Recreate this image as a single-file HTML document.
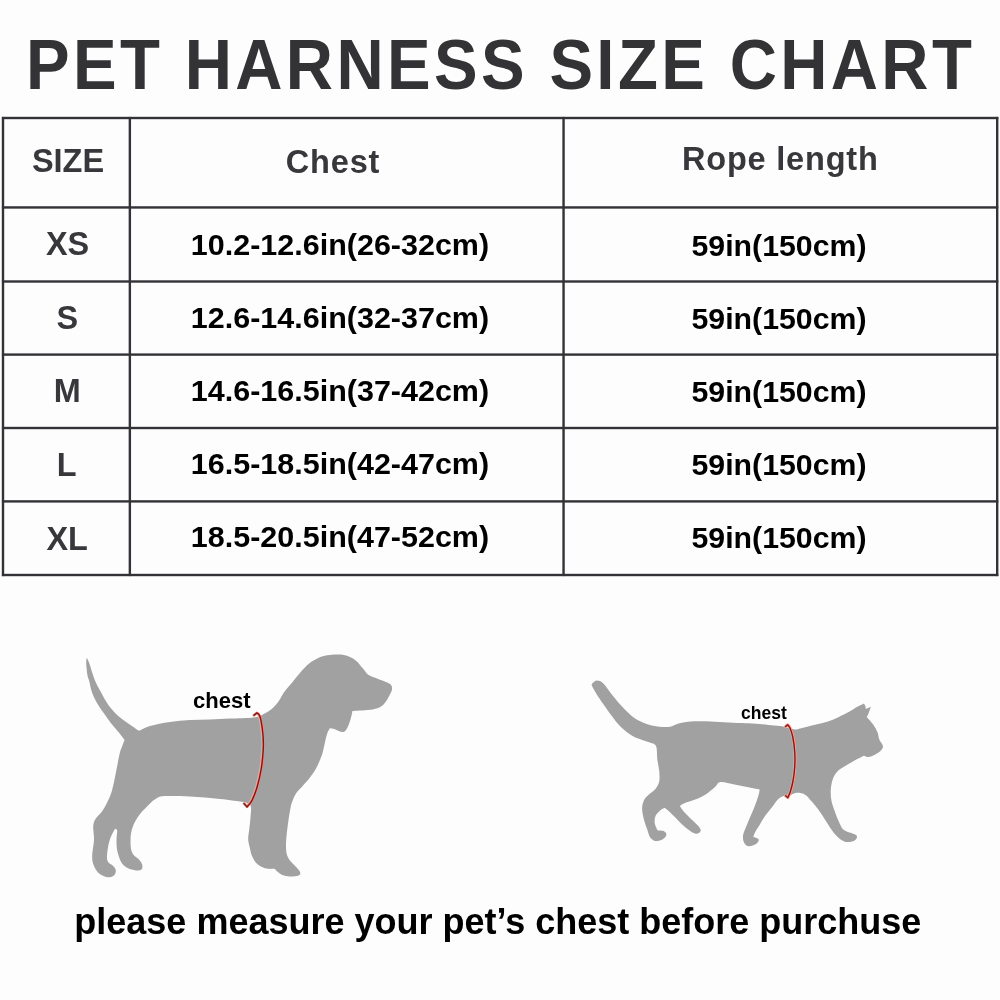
<!DOCTYPE html>
<html><head><meta charset="utf-8">
<style>
html,body{margin:0;padding:0;}
body{width:1000px;height:1000px;background:#fdfdfd;position:relative;overflow:hidden;font-family:"Liberation Sans",sans-serif;font-weight:bold;}
.t{position:absolute;white-space:nowrap;line-height:1;}
.c{transform:translateX(-50%);}
#title{left:25.5px;top:30.5px;font-size:69.5px;color:#333336;letter-spacing:3.6px;transform:scaleX(0.94);transform-origin:0 0;}
.hd{color:#38383c;font-size:32.5px;}
.sz{color:#38383c;font-size:32.4px;}
.d{color:#000;font-size:30.2px;transform:translateX(-50%) scaleX(1.01);}
.r{transform:translateX(-50%) scaleX(1.003);margin-top:0.4px;}
#foot{left:74.3px;top:903.8px;font-size:36px;color:#000;}
svg{position:absolute;left:0;top:0;}
#wrap{position:absolute;left:0;top:0;width:1000px;height:1000px;will-change:transform;}
</style></head><body><div id="wrap">
<div id="title" class="t">PET HARNESS SIZE CHART</div>

<svg width="1000" height="1000" viewBox="0 0 1000 1000" fill="#343237">
<rect x="1.9" y="116.80" width="996.4" height="2.4"/>
<rect x="1.9" y="206.25" width="996.4" height="2.4"/>
<rect x="1.9" y="280.30" width="996.4" height="2.4"/>
<rect x="1.9" y="353.40" width="996.4" height="2.4"/>
<rect x="1.9" y="426.80" width="996.4" height="2.4"/>
<rect x="1.9" y="500.20" width="996.4" height="2.4"/>
<rect x="1.9" y="573.80" width="996.4" height="2.4"/>
<rect x="1.80" y="116.9" width="2.4" height="459.2"/>
<rect x="128.65" y="116.9" width="2.4" height="459.2"/>
<rect x="562.35" y="116.9" width="2.4" height="459.2"/>
<rect x="996.00" y="116.9" width="2.4" height="459.2"/>
</svg>

<div class="t c hd" style="left:68px;top:145.3px">SIZE</div>
<div class="t c hd" style="left:333px;top:146px;letter-spacing:0.8px">Chest</div>
<div class="t c hd" style="left:780.3px;top:142.5px;letter-spacing:0.8px">Rope length</div>

<div class="t c sz" style="left:67.5px;top:227.5px">XS</div>
<div class="t c sz" style="left:67.2px;top:301.8px">S</div>
<div class="t c sz" style="left:67.2px;top:374.8px">M</div>
<div class="t c sz" style="left:66.6px;top:448.8px">L</div>
<div class="t c sz" style="left:67.2px;top:522.6px">XL</div>

<div class="t c d" style="left:340px;top:230.3px">10.2-12.6in(26-32cm)</div>
<div class="t c d" style="left:340px;top:303.2px">12.6-14.6in(32-37cm)</div>
<div class="t c d" style="left:340px;top:376.2px">14.6-16.5in(37-42cm)</div>
<div class="t c d" style="left:340px;top:449.2px">16.5-18.5in(42-47cm)</div>
<div class="t c d" style="left:340px;top:522.2px">18.5-20.5in(47-52cm)</div>

<div class="t c d r" style="left:779px;top:230.3px">59in(150cm)</div>
<div class="t c d r" style="left:779px;top:303.2px">59in(150cm)</div>
<div class="t c d r" style="left:779px;top:376.2px">59in(150cm)</div>
<div class="t c d r" style="left:779px;top:449.2px">59in(150cm)</div>
<div class="t c d r" style="left:779px;top:522.2px">59in(150cm)</div>

<svg width="1000" height="1000" viewBox="0 0 1000 1000">
<path fill="#a1a1a1" d="M86.8 657.8C87.2 658.7 88.3 660.5 89.2 663.0C90.1 665.5 91.2 669.6 92.2 672.6C93.2 675.6 93.9 678.0 95.2 681.0C96.5 684.0 97.8 686.6 100.0 690.6C102.2 694.6 105.4 700.8 108.4 705.0C111.4 709.2 114.8 712.8 118.0 715.8C121.2 718.8 124.1 720.5 127.6 723.0C131.1 725.5 137.1 729.5 139.0 730.8C140.8 730.0 144.8 727.5 150.0 726.0C155.2 724.5 163.3 723.0 170.0 722.0C176.7 721.0 183.3 720.4 190.0 720.0C196.7 719.6 203.3 719.6 210.0 719.4C216.7 719.2 222.8 718.9 230.0 718.6C237.2 718.3 248.0 718.0 253.4 717.4C258.8 716.8 259.4 716.1 262.4 714.7C265.4 713.4 268.7 711.5 271.4 709.3C274.1 707.0 276.5 704.1 278.6 701.2C280.7 698.4 281.6 695.5 284.0 692.2C286.4 688.9 290.0 685.0 293.0 681.4C296.0 677.8 299.3 673.6 302.0 670.6C304.7 667.6 306.5 665.5 309.2 663.4C311.9 661.3 315.2 659.4 318.2 658.0C321.2 656.6 323.9 655.9 327.2 655.3C330.5 654.7 334.7 654.3 338.0 654.4C341.3 654.5 344.0 654.8 347.0 655.8C350.0 656.8 353.3 658.5 356.0 660.7C358.7 662.9 361.1 666.4 363.2 668.8C365.3 671.2 366.2 673.5 368.6 675.1C371.0 676.8 374.6 677.5 377.6 678.7C380.6 679.9 384.4 681.2 386.6 682.3C388.9 683.3 390.2 683.8 391.1 685.0C392.0 686.2 392.3 687.7 392.0 689.5C391.7 691.3 390.5 693.5 389.3 695.8C388.1 698.0 386.5 701.0 384.8 703.0C383.1 705.0 381.8 706.4 379.4 707.5C377.0 708.6 373.7 709.3 370.4 709.8C367.1 710.3 362.6 710.4 359.6 710.6C356.6 710.8 353.6 711.0 352.4 711.1C352.2 711.9 352.1 713.4 351.5 715.6C350.9 717.9 349.9 722.1 348.8 724.6C347.8 727.1 346.6 729.7 345.2 730.9C343.8 732.1 342.5 732.1 340.7 731.8C338.9 731.5 336.2 729.7 334.4 729.1C332.6 728.5 330.6 728.4 329.9 728.2C329.4 729.1 328.1 730.9 327.2 733.6C326.3 736.3 325.4 740.8 324.5 744.4C323.6 748.0 323.2 751.3 321.8 755.2C320.4 759.1 318.5 763.9 316.4 767.8C314.3 771.7 311.6 775.5 309.2 778.6C306.8 781.8 304.2 784.2 302.0 786.7C299.8 789.2 297.3 791.4 295.7 793.9C294.1 796.4 293.0 799.6 292.1 802.0C291.2 804.4 291.1 804.9 290.5 808.0C289.9 811.1 289.0 816.3 288.4 820.8C287.8 825.3 287.0 830.8 286.6 835.2C286.2 839.6 285.9 843.8 286.0 847.2C286.1 850.6 286.4 853.2 287.2 855.6C288.0 858.0 289.4 859.8 290.8 861.6C292.2 863.4 294.2 864.9 295.6 866.4C297.0 867.9 298.4 869.3 299.2 870.6C300.0 871.9 300.6 873.3 300.2 874.2C299.8 875.1 298.6 875.6 296.8 876.0C295.0 876.4 292.0 876.6 289.6 876.4C287.2 876.2 284.4 875.8 282.4 875.0C280.4 874.2 278.9 872.8 277.6 871.8C276.3 870.8 275.1 869.3 274.6 868.8C273.5 868.8 270.1 869.1 268.0 868.8C265.9 868.5 264.0 868.0 262.0 867.0C260.0 866.0 257.7 864.7 256.0 862.8C254.3 860.9 252.8 858.0 251.8 855.6C250.8 853.2 250.5 850.4 250.0 848.4C249.5 846.4 249.1 845.4 248.8 843.6C248.5 841.8 248.1 840.2 248.2 837.6C248.3 835.0 249.0 831.6 249.4 828.0C249.8 824.4 250.4 819.7 250.6 816.0C250.8 812.3 251.7 808.1 250.6 805.8C249.5 803.5 245.1 802.6 244.0 802.0C240.0 801.5 229.0 799.9 220.0 799.0C211.0 798.1 199.0 797.0 190.0 796.5C181.0 796.0 171.5 795.8 166.0 796.0C160.5 796.2 160.0 796.4 157.0 798.0C154.0 799.6 151.2 802.2 148.0 805.5C144.8 808.8 140.2 813.2 137.5 817.5C134.8 821.8 132.6 826.2 131.5 831.0C130.4 835.8 130.4 842.1 130.7 846.0C130.9 849.9 131.8 852.1 133.0 854.2C134.2 856.3 136.7 857.1 138.2 858.7C139.7 860.3 141.4 862.2 142.0 864.0C142.6 865.8 142.7 868.1 141.7 869.2C140.7 870.3 138.4 870.6 136.0 870.4C133.6 870.1 129.5 869.2 127.0 867.7C124.5 866.2 122.6 864.6 121.0 861.7C119.4 858.8 118.0 854.1 117.2 850.5C116.5 846.9 116.5 843.2 116.5 840.0C116.5 836.8 117.3 832.9 117.2 831.0C117.1 829.1 116.0 829.1 115.7 828.7C115.5 829.0 115.2 828.3 114.2 830.2C113.2 832.1 110.8 836.6 109.7 840.0C108.6 843.4 107.9 847.0 107.5 850.5C107.1 854.0 106.6 858.5 107.5 861.0C108.4 863.5 111.3 864.0 112.7 865.5C114.1 867.0 115.5 868.4 115.7 870.0C116.0 871.6 115.6 874.0 114.2 875.2C112.8 876.4 110.1 877.6 107.5 877.2C104.9 876.8 100.9 875.2 98.5 873.0C96.1 870.8 94.2 867.0 93.2 864.0C92.2 861.0 92.1 859.0 92.2 855.0C92.3 851.0 93.8 844.8 94.0 840.0C94.2 835.2 93.0 830.0 93.2 826.5C93.5 823.0 93.9 821.8 95.5 819.0C97.1 816.2 100.5 814.0 103.0 810.0C105.5 806.0 108.7 799.7 110.5 795.0C112.3 790.3 112.9 786.7 114.0 782.0C115.1 777.3 116.0 771.8 117.0 767.0C118.0 762.2 118.8 756.7 119.8 753.0C120.8 749.3 122.0 746.8 122.8 744.6C123.6 742.4 124.3 740.6 124.6 739.8C123.5 738.4 120.3 734.2 118.0 731.4C115.7 728.6 113.0 725.8 110.8 723.0C108.6 720.2 106.9 717.6 104.8 714.6C102.7 711.6 100.3 708.6 98.2 705.0C96.1 701.4 93.7 697.0 92.2 693.0C90.7 689.0 90.0 684.0 89.2 681.0C88.4 678.0 87.9 678.0 87.4 675.0C86.9 672.0 86.3 665.9 86.2 663.0C86.1 660.1 86.7 658.7 86.8 657.8Z"/>
<path fill="#a1a1a1" d="M795.6 729.6C797.4 729.1 802.8 727.8 806.4 726.9C810.0 726.0 813.6 725.1 817.2 724.2C820.8 723.3 824.4 722.7 828.0 721.5C831.6 720.3 835.2 718.6 838.8 717.0C842.4 715.4 846.6 713.2 849.6 711.6C852.6 710.0 854.4 708.5 856.8 707.1C859.2 705.8 862.8 704.1 864.0 703.5C864.2 704.0 865.1 705.3 865.4 706.2C865.7 707.1 865.7 708.5 865.8 708.9C866.6 708.6 870.0 707.4 870.8 707.1C870.4 708.1 869.2 711.8 868.5 713.4C867.8 715.0 867.0 716.4 866.7 717.0C867.8 718.2 871.2 721.7 873.0 724.2C874.8 726.8 876.5 729.8 877.5 732.3C878.5 734.8 878.4 737.2 879.3 739.5C880.2 741.8 882.6 744.0 882.9 745.8C883.2 747.6 882.5 748.8 881.1 750.3C879.8 751.8 876.9 753.7 874.8 754.8C872.7 755.9 870.3 756.9 868.5 757.0C866.7 757.1 864.8 755.9 864.0 755.7C862.8 756.3 859.8 757.6 856.8 759.3C853.8 760.9 849.3 763.5 846.0 765.6C842.7 767.7 839.2 769.5 837.0 771.9C834.8 774.3 833.5 776.9 832.5 780.0C831.5 783.1 830.9 787.2 830.7 790.8C830.6 794.4 830.9 798.0 831.6 801.6C832.4 805.2 834.0 809.1 835.2 812.4C836.4 815.7 837.4 818.5 838.8 821.4C840.1 824.2 841.2 827.5 843.3 829.5C845.4 831.5 849.1 832.1 851.4 833.1C853.6 834.1 856.2 834.6 856.8 835.8C857.4 837.0 856.5 839.2 855.0 840.3C853.5 841.3 850.2 842.2 847.8 842.1C845.4 842.0 843.0 841.0 840.6 839.4C838.2 837.8 835.8 835.2 833.4 832.2C831.0 829.2 828.6 825.0 826.2 821.4C823.8 817.8 821.4 813.9 819.0 810.6C816.6 807.3 814.2 804.3 811.8 801.6C809.4 798.9 807.3 795.8 804.6 794.4C801.9 793.0 798.5 792.6 795.6 793.0C792.8 793.4 788.9 796.3 787.5 797.0C786.8 796.9 784.6 795.7 783.0 796.2C781.4 796.7 779.4 798.0 777.6 799.8C775.8 801.6 774.3 804.3 772.2 807.0C770.1 809.7 767.1 813.0 765.0 816.0C762.9 819.0 761.2 822.3 759.6 825.0C758.0 827.7 756.2 830.2 755.1 832.2C754.0 834.2 753.6 836.0 753.3 836.7C754.2 837.2 758.2 838.2 758.7 839.4C759.2 840.6 757.6 842.8 756.0 843.9C754.4 845.0 750.8 846.4 748.8 846.2C746.8 846.1 745.3 844.7 744.3 843.0C743.3 841.3 742.7 838.5 743.0 835.8C743.3 833.1 744.8 830.1 746.1 826.8C747.4 823.5 749.1 819.6 750.6 816.0C752.1 812.4 753.8 808.8 755.1 805.2C756.5 801.6 758.0 797.0 758.7 794.4C759.5 791.8 759.5 790.3 759.6 789.5C757.5 789.1 751.2 787.8 747.0 787.0C742.8 786.2 738.8 785.3 734.4 784.5C730.0 783.7 723.6 781.6 720.4 782.0C717.2 782.4 717.4 785.0 715.0 787.0C712.6 789.0 709.3 792.1 706.0 794.2C702.7 796.3 698.8 798.1 695.2 799.6C691.6 801.1 687.0 802.2 684.4 803.2C681.8 804.2 680.6 805.5 679.9 805.9C680.6 807.0 682.4 810.0 684.4 812.2C686.4 814.5 689.2 817.0 691.6 819.4C694.0 821.8 697.3 824.6 698.8 826.6C700.3 828.6 700.9 829.9 700.6 831.1C700.3 832.3 698.5 833.6 697.0 833.8C695.5 833.9 693.7 833.2 691.6 832.0C689.5 830.8 686.8 828.7 684.4 826.6C682.0 824.5 679.6 821.8 677.2 819.4C674.8 817.0 672.1 814.2 670.0 812.2C667.9 810.2 665.5 808.5 664.6 807.7C663.9 808.2 661.6 809.0 660.1 810.4C658.6 811.8 656.5 813.7 655.6 815.8C654.7 817.9 654.4 820.6 654.7 823.0C655.0 825.4 657.0 829.0 657.4 830.2C658.5 830.4 662.2 830.4 663.7 831.1C665.2 831.9 666.5 833.4 666.4 834.7C666.2 836.1 664.6 838.2 662.8 839.2C661.0 840.2 657.7 841.3 655.6 841.0C653.5 840.7 651.6 839.2 650.2 837.4C648.9 835.6 648.5 833.2 647.5 830.2C646.5 827.2 644.8 823.0 643.9 819.4C643.0 815.8 642.1 811.8 642.1 808.6C642.1 805.5 642.9 802.8 643.9 800.5C644.9 798.2 646.4 797.1 648.4 795.1C650.4 793.1 653.8 791.0 655.6 788.8C657.4 786.5 658.6 784.6 659.2 781.6C659.8 778.6 659.5 774.4 659.2 770.8C658.9 767.2 657.9 763.9 657.4 760.0C656.9 756.1 657.1 750.1 656.5 747.4C655.9 744.7 654.2 744.4 653.8 743.8C652.0 743.2 646.6 741.6 643.0 740.2C639.4 738.9 635.8 737.8 632.2 735.7C628.6 733.6 624.7 730.8 621.4 727.6C618.1 724.5 615.4 720.7 612.4 716.8C609.4 712.9 606.1 708.1 603.4 704.2C600.7 700.3 598.1 696.4 596.2 693.4C594.3 690.4 592.9 687.9 592.2 686.2C591.5 684.6 591.4 684.5 592.2 683.5C593.0 682.5 595.2 680.4 597.1 680.4C599.0 680.4 600.9 681.0 603.4 683.5C605.9 686.0 609.1 691.2 612.4 695.2C615.7 699.2 619.6 704.0 623.2 707.8C626.8 711.5 630.1 715.0 634.0 717.7C637.9 720.4 642.4 722.5 646.6 724.0C650.8 725.5 655.3 726.2 659.2 726.7C663.1 727.2 667.0 727.2 670.0 726.7C673.0 726.2 674.2 724.8 677.2 724.0C680.2 723.2 683.2 722.2 688.0 721.8C692.8 721.3 700.0 721.2 706.0 721.3C712.0 721.4 718.0 721.9 724.0 722.2C730.0 722.5 736.7 722.8 742.0 723.1C747.3 723.4 750.7 723.4 756.0 723.8C761.3 724.2 769.2 725.1 774.0 725.6C778.8 726.1 781.2 726.2 784.8 726.9C788.4 727.6 793.8 729.1 795.6 729.6Z"/>
<g fill="none" stroke-linecap="round" stroke-linejoin="round">
<path d="M254.0 715.2C254.5 714.8 256.3 713.4 256.8 713.0C257.2 713.6 258.6 713.2 259.5 716.5C260.4 719.8 261.7 727.4 262.2 733.0C262.7 738.6 262.9 744.0 262.6 750.0C262.3 756.0 261.6 762.8 260.6 769.0C259.6 775.2 258.0 781.8 256.5 787.0C255.0 792.2 253.1 796.7 251.5 800.0C249.9 803.3 247.8 805.5 247.0 806.6C246.5 806.1 244.7 804.0 244.2 803.5" stroke="#f3a193" stroke-width="3"/>
<path d="M254.0 715.2C254.5 714.8 256.4 713.3 256.9 712.9C257.4 713.5 258.9 712.9 259.9 716.3C260.9 719.6 262.2 727.4 262.8 733.0C263.4 738.6 263.5 744.0 263.2 750.0C262.9 756.0 262.2 762.8 261.2 769.0C260.2 775.2 258.6 781.8 257.1 787.0C255.6 792.2 253.7 797.0 252.0 800.3C250.3 803.6 247.8 805.9 247.0 807.0C246.5 806.4 244.5 804.2 244.0 803.6" stroke="#8a1515" stroke-width="1.5"/>
<path d="M785.6 726.6C785.9 726.3 787.3 725.1 787.6 724.8C788.0 725.3 789.1 725.9 790.0 728.0C790.9 730.1 792.1 733.3 792.9 737.5C793.7 741.7 794.5 748.1 794.8 753.0C795.1 757.9 795.0 762.3 794.7 767.0C794.4 771.7 793.8 776.8 793.0 781.0C792.2 785.2 791.1 789.2 790.2 792.0C789.3 794.8 788.2 796.7 787.8 797.6C787.4 797.3 786.0 796.1 785.6 795.8" stroke="#f3a193" stroke-width="3.1"/>
<path d="M785.6 726.6C785.9 726.3 787.3 725.1 787.6 724.8C788.0 725.3 789.1 725.9 790.0 728.0C790.9 730.1 792.1 733.3 792.9 737.5C793.7 741.7 794.5 748.1 794.8 753.0C795.1 757.9 795.0 762.3 794.7 767.0C794.4 771.7 793.8 776.8 793.0 781.0C792.2 785.2 791.1 789.2 790.2 792.0C789.3 794.8 788.2 796.7 787.8 797.6C787.4 797.3 786.0 796.1 785.6 795.8" stroke="#8a1515" stroke-width="1.4"/>
</g>
</svg>
<div class="t" style="left:193px;top:690px;font-size:22px;color:#000">chest</div>
<div class="t" style="left:741px;top:704.5px;font-size:17.5px;color:#000">chest</div>

<div id="foot" class="t">please measure your pet’s chest before purchuse</div>
</div></body></html>
